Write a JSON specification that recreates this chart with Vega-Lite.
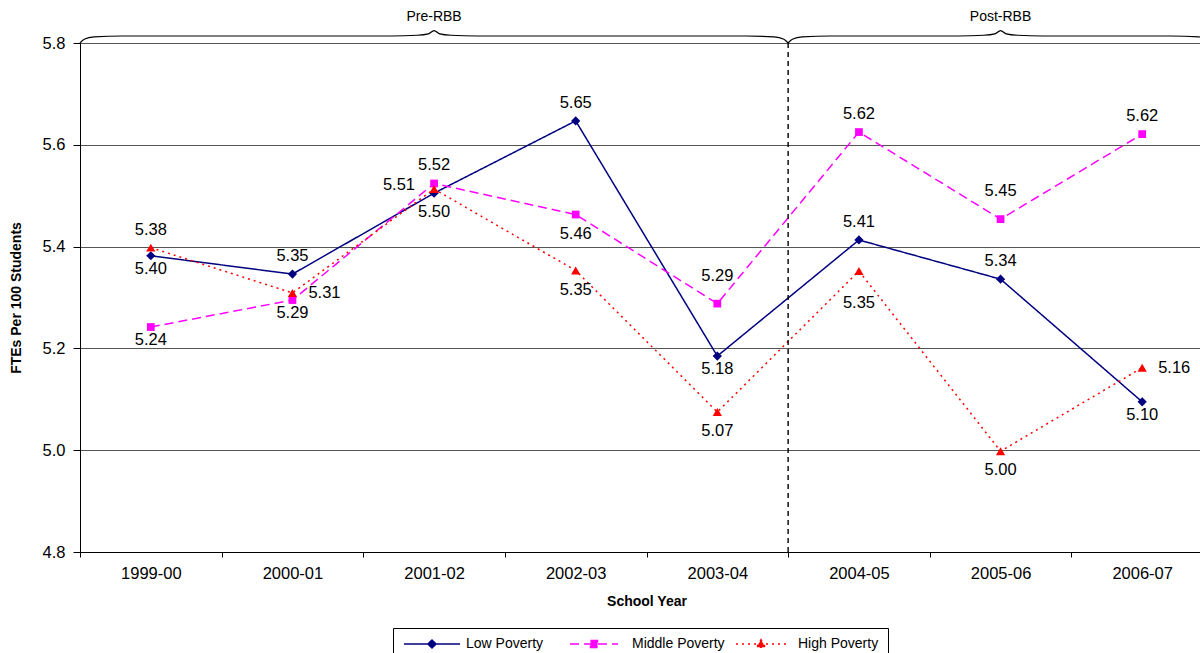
{
  "$schema": "https://vega.github.io/schema/vega-lite/v6.json",
  "width": 1120,
  "height": 509,
  "autosize": {"type": "none"},
  "padding": {"left": 80, "top": 43, "right": 0, "bottom": 101},
  "background": "white",
  "config": {
    "view": {"stroke": null},
    "font": "Liberation Sans",
    "axis": {"labelFont": "Liberation Sans", "titleFont": "Liberation Sans", "labelColor": "black", "titleColor": "black"},
    "legend": {"labelFont": "Liberation Sans"}
  },
  "datasets": {
    "main": [
      {"year": "1999-00", "series": "Low Poverty", "value": 5.382, "label": "5.40"},
      {"year": "2000-01", "series": "Low Poverty", "value": 5.346, "label": "5.35"},
      {"year": "2001-02", "series": "Low Poverty", "value": 5.505, "label": "5.50"},
      {"year": "2002-03", "series": "Low Poverty", "value": 5.647, "label": "5.65"},
      {"year": "2003-04", "series": "Low Poverty", "value": 5.185, "label": "5.18"},
      {"year": "2004-05", "series": "Low Poverty", "value": 5.413, "label": "5.41"},
      {"year": "2005-06", "series": "Low Poverty", "value": 5.336, "label": "5.34"},
      {"year": "2006-07", "series": "Low Poverty", "value": 5.095, "label": "5.10"},
      {"year": "1999-00", "series": "Middle Poverty", "value": 5.242, "label": "5.24"},
      {"year": "2000-01", "series": "Middle Poverty", "value": 5.295, "label": "5.29"},
      {"year": "2001-02", "series": "Middle Poverty", "value": 5.524, "label": "5.52"},
      {"year": "2002-03", "series": "Middle Poverty", "value": 5.463, "label": "5.46"},
      {"year": "2003-04", "series": "Middle Poverty", "value": 5.288, "label": "5.29"},
      {"year": "2004-05", "series": "Middle Poverty", "value": 5.625, "label": "5.62"},
      {"year": "2005-06", "series": "Middle Poverty", "value": 5.454, "label": "5.45"},
      {"year": "2006-07", "series": "Middle Poverty", "value": 5.621, "label": "5.62"},
      {"year": "1999-00", "series": "High Poverty", "value": 5.398, "label": "5.38"},
      {"year": "2000-01", "series": "High Poverty", "value": 5.309, "label": "5.31"},
      {"year": "2001-02", "series": "High Poverty", "value": 5.513, "label": "5.51"},
      {"year": "2002-03", "series": "High Poverty", "value": 5.353, "label": "5.35"},
      {"year": "2003-04", "series": "High Poverty", "value": 5.075, "label": "5.07"},
      {"year": "2004-05", "series": "High Poverty", "value": 5.352, "label": "5.35"},
      {"year": "2005-06", "series": "High Poverty", "value": 4.998, "label": "5.00"},
      {"year": "2006-07", "series": "High Poverty", "value": 5.162, "label": "5.16"}
    ],
    "brace": [
      {"part": "pre", "bx": 0, "by": 5.8},
      {"part": "pre", "bx": 0.03, "by": 5.8075},
      {"part": "pre", "bx": 0.1, "by": 5.812},
      {"part": "pre", "bx": 0.3, "by": 5.8138},
      {"part": "pre", "bx": 2.2, "by": 5.8138},
      {"part": "pre", "bx": 2.38, "by": 5.8152},
      {"part": "pre", "bx": 2.46, "by": 5.818},
      {"part": "pre", "bx": 2.5, "by": 5.8245},
      {"part": "pre", "bx": 2.54, "by": 5.818},
      {"part": "pre", "bx": 2.62, "by": 5.8152},
      {"part": "pre", "bx": 2.8, "by": 5.8138},
      {"part": "pre", "bx": 4.7, "by": 5.8138},
      {"part": "pre", "bx": 4.9, "by": 5.812},
      {"part": "pre", "bx": 4.97, "by": 5.8075},
      {"part": "pre", "bx": 5, "by": 5.8},
      {"part": "post", "bx": 5, "by": 5.8},
      {"part": "post", "bx": 5.03, "by": 5.8075},
      {"part": "post", "bx": 5.1, "by": 5.812},
      {"part": "post", "bx": 5.3, "by": 5.8138},
      {"part": "post", "bx": 6.2, "by": 5.8138},
      {"part": "post", "bx": 6.38, "by": 5.8152},
      {"part": "post", "bx": 6.46, "by": 5.818},
      {"part": "post", "bx": 6.5, "by": 5.8245},
      {"part": "post", "bx": 6.54, "by": 5.818},
      {"part": "post", "bx": 6.62, "by": 5.8152},
      {"part": "post", "bx": 6.8, "by": 5.8138},
      {"part": "post", "bx": 7.7, "by": 5.8138},
      {"part": "post", "bx": 7.9, "by": 5.812},
      {"part": "post", "bx": 7.97, "by": 5.8075},
      {"part": "post", "bx": 8, "by": 5.8}
    ],
    "braceText": [
      {"bx": 2.5, "by": 5.851, "label": "Pre-RBB"},
      {"bx": 6.5, "by": 5.851, "label": "Post-RBB"}
    ],
    "divider": [
      {"bx": 5}
    ]
  },
  "layer": [
    {
      "data": {"name": "main"},
      "layer": [
        {
          "mark": {"type": "line", "strokeWidth": 1.5},
          "encoding": {
            "x": {
              "field": "year", "type": "nominal",
              "scale": {"type": "band", "range": [0, 1133], "paddingInner": 0, "paddingOuter": 0},
              "axis": {"title": "School Year", "orient": "bottom", "labelAngle": 0, "tickBand": "extent", "domainColor": "black", "tickColor": "black", "tickSize": 5, "labelPadding": 8, "labelFontSize": 16.5, "titleFontSize": 14, "titleFontWeight": "bold", "titlePadding": 13, "grid": false}
            },
            "y": {
              "field": "value", "type": "quantitative",
              "title": "FTEs Per 100 Students",
              "scale": {"domain": [4.8, 5.8], "nice": false, "zero": false},
              "axis": {"title": "FTEs Per 100 Students", "orient": "left", "values": [4.8, 5.0, 5.2, 5.4, 5.6, 5.8], "format": ".1f", "grid": true, "gridColor": "#555", "gridWidth": 1, "domainColor": "black", "tickColor": "black", "tickSize": 7, "labelPadding": 8, "labelFontSize": 16.5, "titleFontSize": 14, "titleFontWeight": "bold", "titlePadding": 19}
            },
            "color": {
              "field": "series", "type": "nominal",
              "scale": {"domain": ["Low Poverty", "Middle Poverty", "High Poverty"], "range": ["#000080", "#FF00FF", "#FF0000"]},
              "legend": {
                "title": null,
                "orient": "none",
                "legendX": 313,
                "legendY": 585,
                "direction": "horizontal",
                "strokeColor": "black",
                "fillColor": "white",
                "padding": 9,
                "symbolSize": 100,
                "labelOffset": 50,
                "columnPadding": 8,
                "gridAlign": "all",
                "labelFontSize": 14,
                "labelColor": "black",
                "symbolStrokeWidth": 1.5,
                "symbolType": {"expr": "datum.value === 'Low Poverty' ? 'M-1,0L10.2,0M4.6,-0.8L5.4,0L4.6,0.8L3.8,0Z' : datum.value === 'Middle Poverty' ? 'M-1,0L8.6,0M3.1,-0.7L4.5,-0.7L4.5,0.7L3.1,0.7Z' : 'M-1,0L9.2,0M4,-0.85L4.85,0.65L3.15,0.65Z'"},
                "symbolFillColor": {"expr": "datum.value === 'Low Poverty' ? '#000080' : datum.value === 'Middle Poverty' ? '#FF00FF' : '#FF0000'"},
                "symbolStrokeColor": {"expr": "datum.value === 'Low Poverty' ? '#000080' : datum.value === 'Middle Poverty' ? '#FF00FF' : '#FF0000'"},
                "symbolDash": {"expr": "datum.value === 'Middle Poverty' ? [8, 5] : datum.value === 'High Poverty' ? [2, 4] : [1, 0]"}
              }
            },
            "strokeDash": {
              "field": "series", "type": "nominal",
              "scale": {"domain": ["Low Poverty", "Middle Poverty", "High Poverty"], "range": [[1, 0], [9, 5], [2, 4]]},
              "legend": null
            }
          }
        },
        {
          "transform": [{"filter": "datum.series === 'Low Poverty'"}],
          "mark": {"type": "point", "filled": true, "opacity": 1, "shape": "diamond", "size": 85},
          "encoding": {
            "x": {"field": "year", "type": "nominal"},
            "y": {"field": "value", "type": "quantitative", "title": "FTEs Per 100 Students"},
            "color": {"field": "series", "type": "nominal", "legend": null}
          }
        },
        {
          "transform": [{"filter": "datum.series === 'Middle Poverty'"}],
          "mark": {"type": "point", "filled": true, "opacity": 1, "shape": "square", "size": 60},
          "encoding": {
            "x": {"field": "year", "type": "nominal"},
            "y": {"field": "value", "type": "quantitative", "title": "FTEs Per 100 Students"},
            "color": {"field": "series", "type": "nominal", "legend": null}
          }
        },
        {
          "transform": [{"filter": "datum.series === 'High Poverty'"}],
          "mark": {"type": "point", "filled": true, "opacity": 1, "shape": "triangle-up", "size": 85},
          "encoding": {
            "x": {"field": "year", "type": "nominal"},
            "y": {"field": "value", "type": "quantitative", "title": "FTEs Per 100 Students"},
            "color": {"field": "series", "type": "nominal", "legend": null}
          }
        },
        {
          "transform": [{"filter": "indexof(['Low Poverty|2000-01','Low Poverty|2002-03','Low Poverty|2004-05','Low Poverty|2005-06','Middle Poverty|2001-02','Middle Poverty|2004-05','Middle Poverty|2006-07','High Poverty|1999-00'], datum.series + '|' + datum.year) >= 0"}],
          "mark": {"type": "text", "dy": -18, "fontSize": 16.5, "baseline": "middle", "color": "black"},
          "encoding": {"x": {"field": "year", "type": "nominal"}, "y": {"field": "value", "type": "quantitative", "title": "FTEs Per 100 Students"}, "text": {"field": "label"}}
        },
        {
          "transform": [{"filter": "indexof(['Middle Poverty|2003-04','Middle Poverty|2005-06'], datum.series + '|' + datum.year) >= 0"}],
          "mark": {"type": "text", "dy": -28, "fontSize": 16.5, "baseline": "middle", "color": "black"},
          "encoding": {"x": {"field": "year", "type": "nominal"}, "y": {"field": "value", "type": "quantitative", "title": "FTEs Per 100 Students"}, "text": {"field": "label"}}
        },
        {
          "transform": [{"filter": "indexof(['Low Poverty|1999-00','Middle Poverty|1999-00','Middle Poverty|2000-01','Low Poverty|2003-04','Low Poverty|2006-07'], datum.series + '|' + datum.year) >= 0"}],
          "mark": {"type": "text", "dy": 13, "fontSize": 16.5, "baseline": "middle", "color": "black"},
          "encoding": {"x": {"field": "year", "type": "nominal"}, "y": {"field": "value", "type": "quantitative", "title": "FTEs Per 100 Students"}, "text": {"field": "label"}}
        },
        {
          "transform": [{"filter": "indexof(['Low Poverty|2001-02','High Poverty|2002-03','High Poverty|2003-04','High Poverty|2005-06','Middle Poverty|2002-03'], datum.series + '|' + datum.year) >= 0"}],
          "mark": {"type": "text", "dy": 19, "fontSize": 16.5, "baseline": "middle", "color": "black"},
          "encoding": {"x": {"field": "year", "type": "nominal"}, "y": {"field": "value", "type": "quantitative", "title": "FTEs Per 100 Students"}, "text": {"field": "label"}}
        },
        {
          "transform": [{"filter": "datum.series === 'High Poverty' && datum.year === '2004-05'"}],
          "mark": {"type": "text", "dy": 32, "fontSize": 16.5, "baseline": "middle", "color": "black"},
          "encoding": {"x": {"field": "year", "type": "nominal"}, "y": {"field": "value", "type": "quantitative", "title": "FTEs Per 100 Students"}, "text": {"field": "label"}}
        },
        {
          "transform": [{"filter": "datum.series === 'High Poverty' && (datum.year === '2000-01' || datum.year === '2006-07')"}],
          "mark": {"type": "text", "dx": 16, "dy": 0, "align": "left", "fontSize": 16.5, "baseline": "middle", "color": "black"},
          "encoding": {"x": {"field": "year", "type": "nominal"}, "y": {"field": "value", "type": "quantitative", "title": "FTEs Per 100 Students"}, "text": {"field": "label"}}
        },
        {
          "transform": [{"filter": "datum.series === 'High Poverty' && datum.year === '2001-02'"}],
          "mark": {"type": "text", "dx": -19, "dy": -4, "align": "right", "fontSize": 16.5, "baseline": "middle", "color": "black"},
          "encoding": {"x": {"field": "year", "type": "nominal"}, "y": {"field": "value", "type": "quantitative", "title": "FTEs Per 100 Students"}, "text": {"field": "label"}}
        }
      ]
    },
    {
      "layer": [
        {
          "data": {"name": "brace"},
          "mark": {"type": "line", "interpolate": "monotone", "stroke": "black", "strokeWidth": 1.2, "clip": false},
          "encoding": {
            "x": {"field": "bx", "type": "quantitative", "scale": {"domain": [0, 8], "range": [0, 1133], "nice": false, "zero": false}, "axis": null},
            "y": {"field": "by", "type": "quantitative", "title": "FTEs Per 100 Students", "scale": {"domain": [4.8, 5.8], "nice": false, "zero": false}},
            "detail": {"field": "part", "type": "nominal"}
          }
        },
        {
          "data": {"name": "braceText"},
          "mark": {"type": "text", "fontSize": 14, "baseline": "middle", "align": "center", "color": "black"},
          "encoding": {
            "x": {"field": "bx", "type": "quantitative", "axis": null},
            "y": {"field": "by", "type": "quantitative", "title": "FTEs Per 100 Students"},
            "text": {"field": "label"}
          }
        },
        {
          "data": {"name": "divider"},
          "mark": {"type": "rule", "strokeDash": [5, 4], "color": "black", "strokeWidth": 1.4},
          "encoding": {
            "x": {"field": "bx", "type": "quantitative", "axis": null}
          }
        }
      ]
    }
  ],
  "resolve": {"scale": {"x": "independent"}}
}
